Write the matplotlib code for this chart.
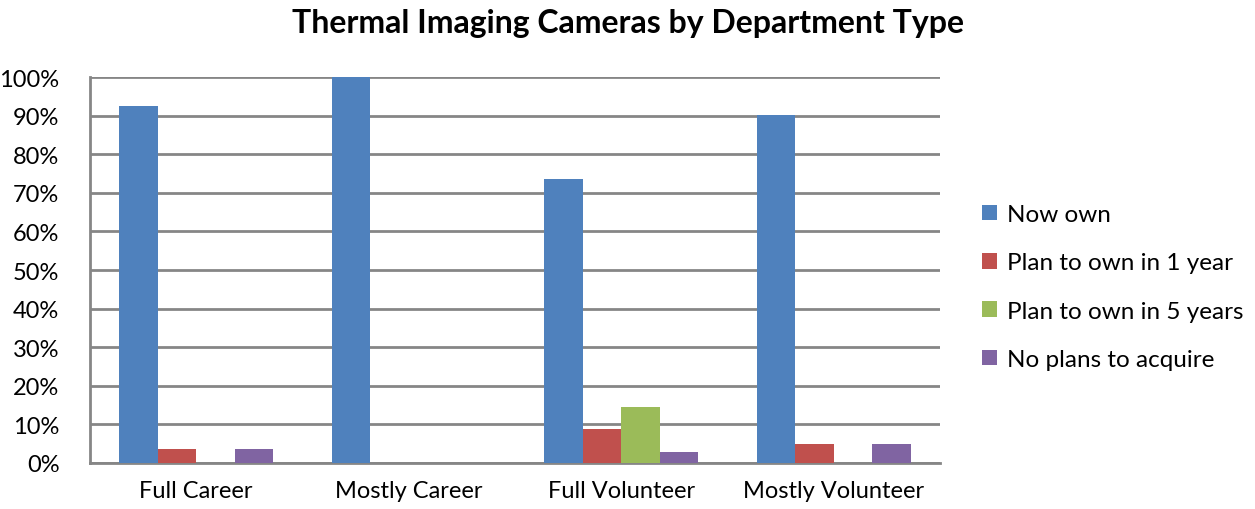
import numpy as np
import matplotlib.pyplot as plt
from matplotlib.ticker import PercentFormatter

categories = ['Full Career', 'Mostly Career', 'Full Volunteer', 'Mostly Volunteer']
series = ['Now own', 'Plan to own in 1 year', 'Plan to own in 5 years', 'No plans to acquire']
now_own = [92.5, 100.0, 73.7, 90.1]
plan_1yr = [3.6, 0.0, 8.7, 4.9]
plan_5yr = [0.0, 0.0, 14.4, 0.0]
no_plans = [3.6, 0.0, 2.9, 4.9]
colors = ['#4F81BD', '#C0504D', '#9BBB59', '#8064A2']

plt.rcParams['font.family'] = ['Lato', 'DejaVu Sans']

fig = plt.figure(figsize=(12.55, 5.1), dpi=100)
ax = fig.add_axes([0.0717, 0.0902, 0.6773, 0.7568])

x = np.arange(len(categories))
w = 0.181
for i, (vals, name) in enumerate(zip([now_own, plan_1yr, plan_5yr, no_plans], series)):
    ax.bar(x + (i - 1.5) * w, vals, w, color=colors[i], label=name, zorder=3)

ax.set_xlim(-0.5, 3.5)
ax.set_ylim(0, 100)
ax.set_yticks(range(0, 101, 10))
ax.yaxis.set_major_formatter(PercentFormatter(decimals=0))
ax.set_xticks(x)
ax.set_xticklabels(categories)
ax.grid(axis='y', color='#868686', linewidth=2, zorder=0)
for s in ['top', 'right']:
    ax.spines[s].set_visible(False)
for s in ['left', 'bottom']:
    ax.spines[s].set_color('#868686')
    ax.spines[s].set_linewidth(2)
ax.tick_params(axis='y', length=0, labelsize=17, pad=22)
ax.tick_params(axis='x', length=0, labelsize=17, pad=12)

fig.text(0.5, 0.953, 'Thermal Imaging Cameras by Department Type',
         ha='center', va='center', fontsize=23, fontweight='bold')

ax.legend(loc='center left', bbox_to_anchor=(1.05, 0.456), frameon=False,
          fontsize=17.5, handlelength=0.6, handleheight=0.6, labelspacing=1.12,
          handletextpad=0.4, borderpad=0, borderaxespad=0)

fig.savefig('out.png', dpi=100)
